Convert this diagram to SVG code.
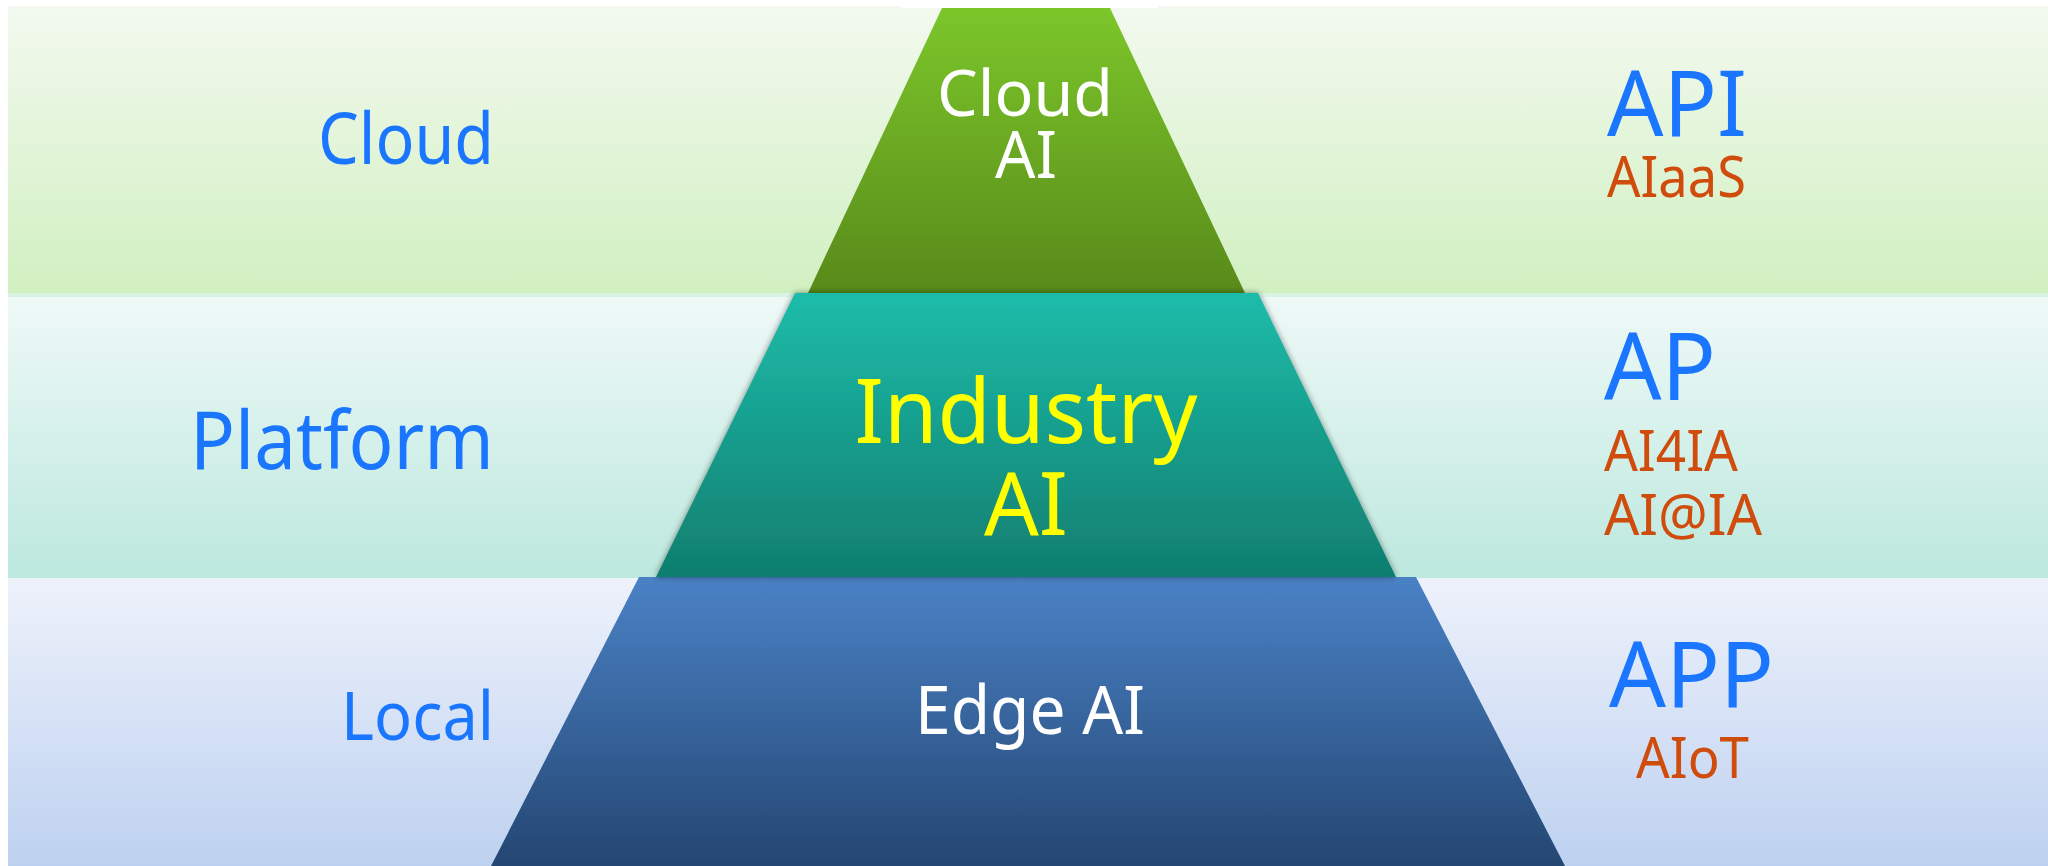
<svg xmlns="http://www.w3.org/2000/svg" width="2048" height="866" viewBox="0 0 2048 866">
  <defs>
    <linearGradient id="bandCloud" x1="0" y1="0" x2="0" y2="1">
      <stop offset="0" stop-color="#f3f9ef"/>
      <stop offset="1" stop-color="#d1f0c1"/>
    </linearGradient>
    <linearGradient id="bandPlatform" x1="0" y1="0" x2="0" y2="1">
      <stop offset="0" stop-color="#eff9f7"/>
      <stop offset="1" stop-color="#bce8de"/>
    </linearGradient>
    <linearGradient id="bandLocal" x1="0" y1="0" x2="0" y2="1">
      <stop offset="0" stop-color="#eef2fb"/>
      <stop offset="1" stop-color="#bdd1f0"/>
    </linearGradient>
    <linearGradient id="trapGreen" x1="0" y1="0" x2="0" y2="1">
      <stop offset="0" stop-color="#7cc62a"/>
      <stop offset="1" stop-color="#588a1a"/>
    </linearGradient>
    <linearGradient id="trapTeal" x1="0" y1="0" x2="0" y2="1">
      <stop offset="0" stop-color="#1ebcaa"/>
      <stop offset="1" stop-color="#107e6f"/>
    </linearGradient>
    <linearGradient id="trapBlue" x1="0" y1="0" x2="0" y2="1">
      <stop offset="0" stop-color="#4a82c6"/>
      <stop offset="1" stop-color="#244672"/>
    </linearGradient>
    <filter id="shadow" x="-10%" y="-10%" width="120%" height="120%">
      <feGaussianBlur in="SourceAlpha" stdDeviation="3"/>
      <feOffset dx="0" dy="0" result="b"/>
      <feComponentTransfer><feFuncA type="linear" slope="0.45"/></feComponentTransfer>
      <feMerge><feMergeNode/><feMergeNode in="SourceGraphic"/></feMerge>
    </filter>
  </defs>
  <style>
    text { font-family: "Noto Sans", "Open Sans", "DejaVu Sans", sans-serif; }
    .side { fill: #1a75ff; }
    .main { fill: #1a75ff; }
    .sub { fill: #d04c0c; }
    .white { fill: #ffffff; }
    .yellow { fill: #ffff00; }
  </style>
  <rect x="0" y="0" width="2048" height="866" fill="#ffffff"/>

  <g id="bands">
    <rect x="8" y="6" width="2040" height="287" fill="url(#bandCloud)"/>
    <rect x="8" y="293" width="2040" height="4" fill="#d9f3e2"/>
    <rect x="8" y="297" width="2040" height="281" fill="url(#bandPlatform)"/>
    <rect x="8" y="578" width="2040" height="288" fill="url(#bandLocal)"/>
    <rect x="901" y="0" width="257" height="8" fill="#ffffff"/>
  </g>

  <g id="connectors"></g>

  <g id="cloud-ai">
    <polygon points="942,8 1110,8 1245,293 808,293" fill="url(#trapGreen)"/>
    <text class="white" x="1025" y="116" font-size="64" text-anchor="middle" textLength="176" lengthAdjust="spacingAndGlyphs">Cloud</text>
    <text class="white" x="1026" y="178" font-size="66" text-anchor="middle" textLength="62" lengthAdjust="spacingAndGlyphs">AI</text>
  </g>

  <g id="edge-ai">
    <polygon points="639,577 1416,577 1565,866 491,866" fill="url(#trapBlue)"/>
    <text class="white" x="1030" y="734" font-size="68" text-anchor="middle" textLength="230" lengthAdjust="spacingAndGlyphs">Edge AI</text>
  </g>

  <g id="industry-ai">
    <polygon points="795,293 1258,293 1396,577 656,577" fill="url(#trapTeal)" filter="url(#shadow)"/>
    <text class="yellow" x="1026" y="443" font-size="90" text-anchor="middle" textLength="343" lengthAdjust="spacingAndGlyphs">Industry</text>
    <text class="yellow" x="1026" y="535" font-size="88" text-anchor="middle" textLength="84" lengthAdjust="spacingAndGlyphs">AI</text>
  </g>

  <g id="label-cloud">
    <text class="side" x="494" y="164" font-size="72" text-anchor="end" textLength="176" lengthAdjust="spacingAndGlyphs">Cloud</text>
  </g>
  <g id="label-platform">
    <text class="side" x="494" y="469" font-size="80" text-anchor="end" textLength="304" lengthAdjust="spacingAndGlyphs">Platform</text>
  </g>
  <g id="label-local">
    <text class="side" x="494" y="740" font-size="68" text-anchor="end" textLength="153" lengthAdjust="spacingAndGlyphs">Local</text>
  </g>

  <g id="api">
    <text class="main" x="1607" y="136" font-size="92" textLength="140" lengthAdjust="spacingAndGlyphs">API</text>
    <text class="sub" x="1607" y="197" font-size="57" textLength="139" lengthAdjust="spacingAndGlyphs">AIaaS</text>
  </g>
  <g id="ap">
    <text class="main" x="1604" y="400" font-size="93" textLength="112" lengthAdjust="spacingAndGlyphs">AP</text>
    <text class="sub" x="1604" y="471" font-size="57" textLength="134" lengthAdjust="spacingAndGlyphs">AI4IA</text>
    <text class="sub" x="1604" y="535" font-size="57" textLength="158" lengthAdjust="spacingAndGlyphs">AI@IA</text>
  </g>
  <g id="app">
    <text class="main" x="1609" y="707" font-size="91" textLength="165" lengthAdjust="spacingAndGlyphs">APP</text>
    <text class="sub" x="1636" y="778" font-size="57" textLength="113" lengthAdjust="spacingAndGlyphs">AIoT</text>
  </g>
</svg>
